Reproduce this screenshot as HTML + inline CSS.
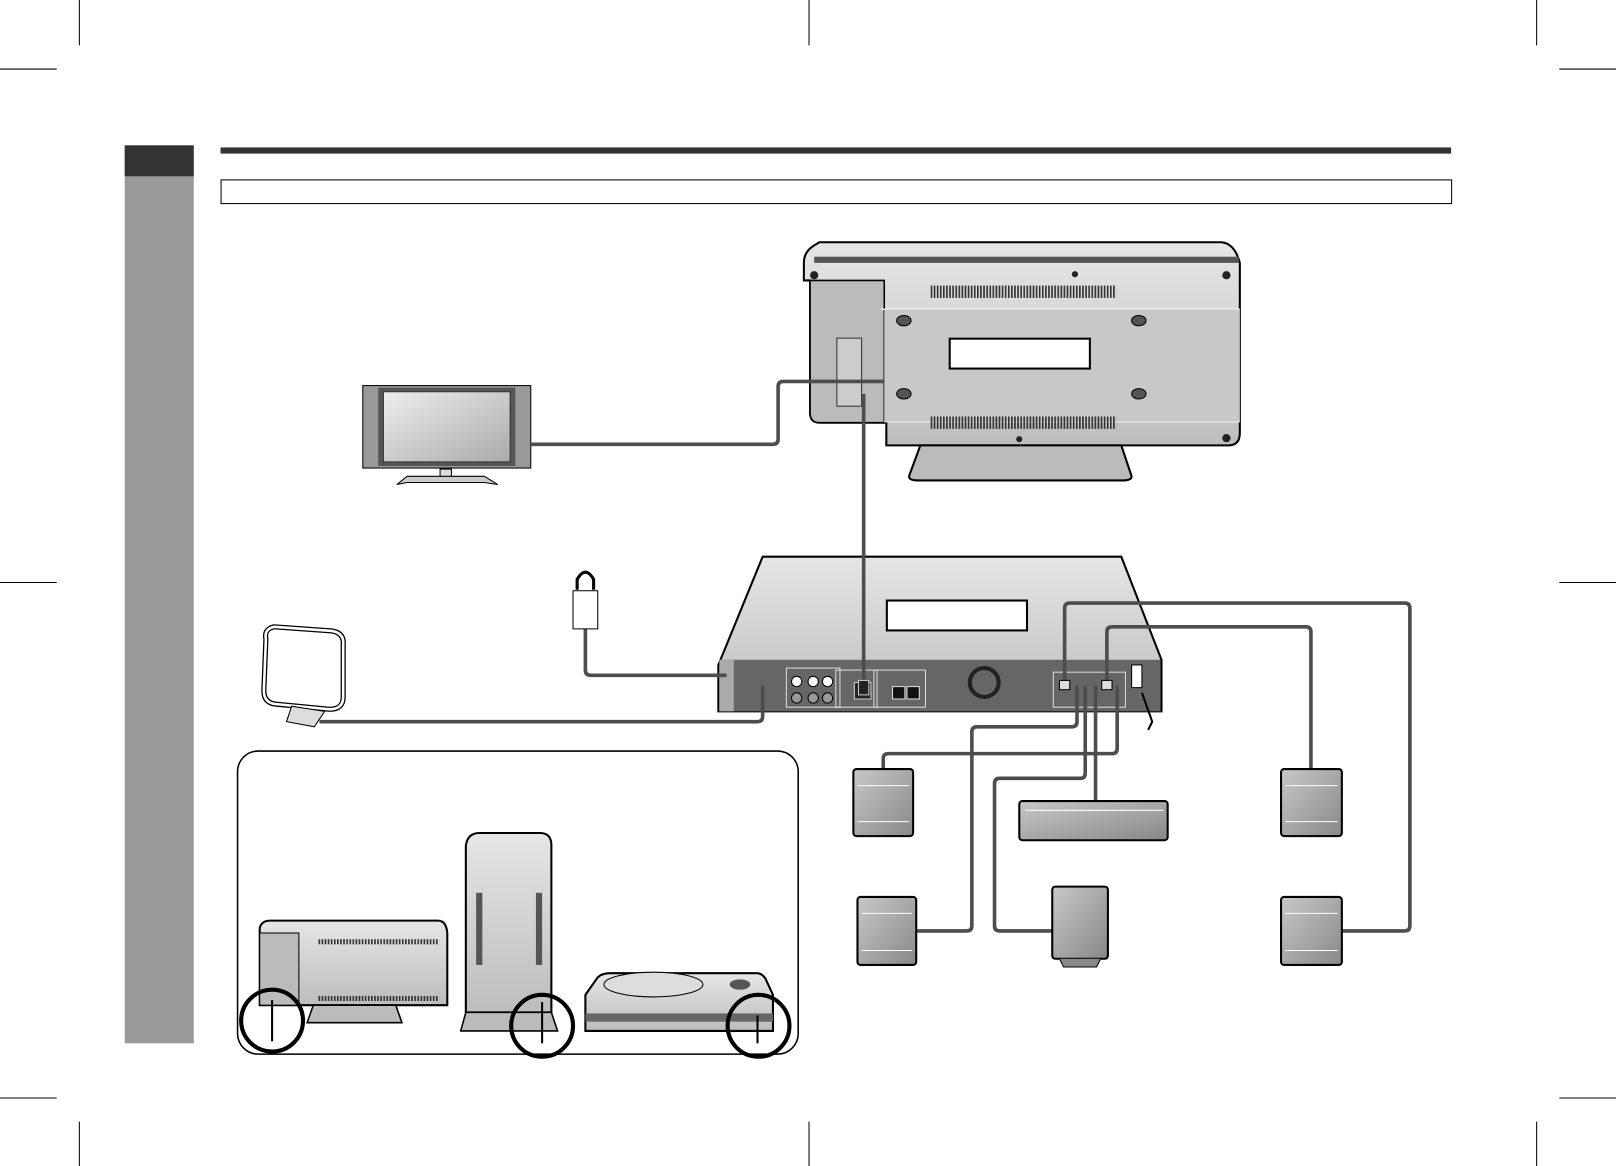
<!DOCTYPE html>
<html><head><meta charset="utf-8"><style>
html,body{margin:0;padding:0;background:#fff}
svg{display:block}
</style></head><body>
<svg width="1616" height="1166" viewBox="0 0 1568 1131" preserveAspectRatio="none" xmlns="http://www.w3.org/2000/svg">
<defs>
<linearGradient id="g1" x1="0" y1="0" x2="1" y2="1"><stop offset="0" stop-color="#eee"/><stop offset="1" stop-color="#aaa"/></linearGradient>
<linearGradient id="g2" x1="0" y1="0" x2="0" y2="1"><stop offset="0" stop-color="#e6e6e6"/><stop offset="1" stop-color="#bdbdbd"/></linearGradient>
<linearGradient id="g3" x1="0" y1="0" x2="1" y2="1"><stop offset="0" stop-color="#c8c8c8"/><stop offset="1" stop-color="#888"/></linearGradient>
<pattern id="vent" width="3" height="10" patternUnits="userSpaceOnUse"><rect width="1.6" height="10" fill="#333"/></pattern>
</defs>
<g stroke="#000" stroke-width="1">
<line x1="77" y1="0" x2="77" y2="44"/><line x1="785" y1="0" x2="785" y2="44"/><line x1="1491" y1="0" x2="1491" y2="44"/>
<line x1="77" y1="1088" x2="77" y2="1131"/><line x1="785" y1="1088" x2="785" y2="1131"/><line x1="1491" y1="1088" x2="1491" y2="1131"/>
<line x1="0" y1="67" x2="55" y2="67"/><line x1="1513" y1="67" x2="1568" y2="67"/>
<line x1="0" y1="565" x2="55" y2="565"/><line x1="1513" y1="565" x2="1568" y2="565"/>
<line x1="0" y1="1065" x2="55" y2="1065"/><line x1="1513" y1="1065" x2="1568" y2="1065"/>
</g>
<rect x="121" y="141" width="67" height="871" fill="#9a9a9a"/>
<rect x="121" y="141" width="67" height="30" fill="#333"/>
<rect x="214" y="143" width="1194" height="6" fill="#333"/>
<rect x="214.5" y="174.5" width="1194" height="23" fill="#fff" stroke="#000"/>

<!-- TV -->
<rect x="352" y="374" width="163" height="80" fill="#999" stroke="#000"/>
<rect x="367" y="376" width="133" height="76" fill="#555"/>
<rect x="372" y="380" width="123" height="68" fill="url(#g1)" stroke="#333"/>
<rect x="427" y="455" width="11" height="12" fill="#ddd" stroke="#000"/>
<path d="M385 470 L395 462 H470 L483 470 L470 468 H395 Z" fill="#ccc" stroke="#000"/>

<!-- main unit top -->
<path d="M780 272 V255 Q780 244 790 238 L795 235 H1185 Q1198 236 1203 255 L1203 420 Q1203 432 1192 432 H860 V410 H795 Q786 410 786 400 V272 Z" fill="url(#g2)" stroke="#000" stroke-width="2"/>
<rect x="790" y="249" width="412" height="6" fill="#555"/>
<path d="M786 272 H858 V410 H795 Q786 410 786 400Z" fill="#bbb" stroke="#000" stroke-width="1.5"/>
<rect x="812" y="328" width="24" height="66" fill="#ccc" stroke="#333"/>
<line x1="855" y1="300" x2="1203" y2="300" stroke="#fff" stroke-width="1.5"/>
<line x1="858" y1="409" x2="1203" y2="409" stroke="#fff" stroke-width="1.5"/>
<rect x="858" y="300" width="345" height="109" fill="#c8c8c8"/>
<rect x="903" y="277" width="180" height="12" fill="url(#vent)"/>
<rect x="903" y="404" width="180" height="12" fill="url(#vent)"/>
<rect x="921.5" y="328.5" width="136" height="29" fill="#fff" stroke="#000" stroke-width="2"/>
<g fill="#555" stroke="#000"><ellipse cx="877" cy="311" rx="7" ry="5"/><ellipse cx="1105" cy="311" rx="7" ry="5"/><ellipse cx="877" cy="382" rx="7" ry="5"/><ellipse cx="1105" cy="382" rx="7" ry="5"/></g>
<g fill="#222"><circle cx="790" cy="267" r="4"/><circle cx="1043" cy="266" r="3"/><circle cx="1190" cy="267" r="4"/><circle cx="989" cy="426" r="3"/><circle cx="1190" cy="425" r="4"/></g>
<path d="M893 432 H1088 L1098 462 Q1098 466 1090 466 H890 Q882 466 882 462 Z" fill="#bbb" stroke="#000" stroke-width="2"/>

<!-- receiver -->
<path d="M697 645 L740 540 H1088 L1127 640 V690 H697 Z" fill="url(#g2)" stroke="#000" stroke-width="2"/>
<rect x="698" y="640" width="428" height="50" fill="#666"/>
<rect x="698" y="640" width="14" height="50" fill="#aaa"/>
<rect x="860.5" y="582.5" width="136" height="29" fill="#fff" stroke="#000" stroke-width="2"/>
<g fill="none" stroke="#ddd"><rect x="763" y="648" width="52" height="38"/><rect x="811" y="650" width="40" height="36"/><rect x="848" y="650" width="50" height="36"/><rect x="1022" y="652" width="70" height="34"/></g>
<g fill="#fff" stroke="#000"><circle cx="773" cy="661" r="5"/><circle cx="789" cy="661" r="5"/><circle cx="803" cy="661" r="5"/><circle cx="773" cy="677" r="5" fill="#999"/><circle cx="789" cy="677" r="5" fill="#999"/><circle cx="803" cy="677" r="5" fill="#999"/></g>
<rect x="829" y="662" width="16" height="16" fill="#222" stroke="#ccc"/>
<rect x="866" y="666" width="12" height="12" fill="#111" stroke="#ddd"/><rect x="880" y="666" width="12" height="12" fill="#111" stroke="#ddd"/>
<circle cx="955" cy="662" r="14" fill="none" stroke="#222" stroke-width="4"/>
<rect x="1098" y="645" width="10" height="22" fill="#fff" stroke="#000"/>
<path d="M1108 672 L1118 700 L1114 708" fill="none" stroke="#000" stroke-width="2"/>

<!-- cables -->
<g fill="none" stroke="#4d4d4d" stroke-width="3.5" stroke-linejoin="round">
<path d="M515 431 H750 Q755 431 755 426 V375 Q755 370 760 370 H858"/>
<path d="M838 382 V665"/>
<path d="M568 610 V650 Q568 655 573 655 H705"/>
<path d="M310 700 H735 Q740 700 740 695 V665"/>
<path d="M1033 665 V590 Q1033 585 1038 585 H1363 Q1368 585 1368 590 V898 Q1368 903 1363 903 H1300"/>
<path d="M1074 665 V613 Q1074 608 1079 608 H1267 Q1272 608 1272 613 V747"/>
<path d="M1084 665 V726 Q1084 731 1079 731 H862 Q857 731 857 736 V747"/>
<path d="M1045 665 V700 Q1045 705 1040 705 H948 Q943 705 943 710 V898 Q943 903 938 903 H888"/>
<path d="M1053 665 V750 Q1053 755 1048 755 H970 Q965 755 965 760 V898 Q965 903 970 903 H1022"/>
<path d="M1063 665 V778"/>
</g>
<g fill="#ddd" stroke="#000"><rect x="1028" y="660" width="10" height="9"/><rect x="1069" y="660" width="10" height="9"/><rect x="833" y="660" width="10" height="14" fill="#222" stroke="#ccc"/></g>

<!-- antennas -->
<path d="M560 572 V562 Q568 548 576 562 V572" fill="none" stroke="#000" stroke-width="3"/>
<path d="M556 573 H580 V610 H556 Z" fill="#fff" stroke="#000"/>
<path d="M258 620 Q256 610 266 608 L322 612 Q334 614 333 625 L333 676 Q333 688 320 688 L268 683 Q256 682 256 670 Z" fill="none" stroke="#000" stroke-width="5"/>
<path d="M258 620 Q256 610 266 608 L322 612 Q334 614 333 625 L333 676 Q333 688 320 688 L268 683 Q256 682 256 670 Z" fill="none" stroke="#fff" stroke-width="2.5"/>
<path d="M283 685 L278 700 L305 705 L315 690 Z" fill="#ddd" stroke="#000"/>

<!-- speakers -->
<g stroke="#000" stroke-width="2">
<rect x="828" y="746" width="58" height="65" rx="3" fill="url(#g3)"/>
<rect x="1243" y="746" width="59" height="65" rx="3" fill="url(#g3)"/>
<rect x="832" y="870" width="57" height="66" rx="3" fill="url(#g3)"/>
<rect x="1243" y="870" width="59" height="66" rx="3" fill="url(#g3)"/>
<rect x="989" y="777" width="144" height="38" rx="3" fill="url(#g3)"/>
<rect x="1021" y="860" width="54" height="70" rx="3" fill="url(#g3)"/>
</g>
<g stroke="#fff" stroke-width="1"><line x1="832" y1="762" x2="882" y2="762"/><line x1="832" y1="797" x2="882" y2="797"/><line x1="1247" y1="762" x2="1298" y2="762"/><line x1="1247" y1="797" x2="1298" y2="797"/><line x1="836" y1="886" x2="885" y2="886"/><line x1="836" y1="922" x2="885" y2="922"/><line x1="1247" y1="886" x2="1298" y2="886"/><line x1="1247" y1="922" x2="1298" y2="922"/><line x1="995" y1="786" x2="1129" y2="786"/></g>
<path d="M1028 930 L1032 938 H1064 L1068 930" fill="#888" stroke="#000"/>

<!-- inset -->
<rect x="230.5" y="728.5" width="544" height="294" rx="20" fill="#fff" stroke="#000" stroke-width="1.5"/>
<path d="M252 900 Q254 893 262 893 H425 Q433 893 434 905 V975 H252 Z" fill="url(#g2)" stroke="#000" stroke-width="2"/>
<rect x="252" y="905" width="38" height="70" fill="#bbb" stroke="#000"/>
<rect x="308" y="911" width="118" height="5" fill="url(#vent)"/><rect x="308" y="966" width="118" height="5" fill="url(#vent)"/>
<path d="M304 975 H384 L390 992 H298 Z" fill="#bbb" stroke="#000" stroke-width="1.5"/>
<path d="M452 820 Q454 808 465 808 H524 Q535 808 535 820 V982 H452 Z" fill="url(#g2)" stroke="#000" stroke-width="2"/>
<rect x="462" y="866" width="6" height="70" fill="#555"/><rect x="520" y="866" width="6" height="70" fill="#555"/>
<path d="M452 982 H535 L541 1000 H447 Z" fill="#bbb" stroke="#000" stroke-width="1.5"/>
<path d="M568 965 L580 948 Q584 944 592 944 H734 Q741 944 744 952 L750 965 V1000 H568 Z" fill="url(#g2)" stroke="#000" stroke-width="2"/>
<ellipse cx="634" cy="955" rx="48" ry="12" fill="#ddd" stroke="#000"/>
<ellipse cx="718" cy="955" rx="10" ry="5" fill="#555"/>
<rect x="568" y="983" width="182" height="8" fill="#666"/>
<g fill="none" stroke="#000" stroke-width="4"><circle cx="264" cy="990" r="30"/><circle cx="526" cy="995" r="30"/><circle cx="736" cy="995" r="30"/></g>
<g stroke="#000" stroke-width="2"><line x1="264" y1="970" x2="264" y2="1010"/><line x1="526" y1="972" x2="526" y2="1012"/><line x1="735" y1="985" x2="735" y2="1012"/></g>
</svg>
</body></html>
